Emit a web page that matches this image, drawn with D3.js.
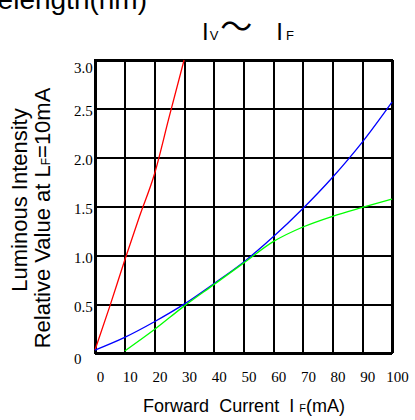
<!DOCTYPE html>
<html lang="en">
<head>
<meta charset="UTF-8">
<title>Iv ~ If</title>
<script src="https://d3js.org/d3.v7.min.js"></script>
<style>
body { margin: 0; background: #fff; }
svg { display: block; }
.grid line { stroke: #000; stroke-width: 2; shape-rendering: crispEdges; }
.grid path { display: none; }
.tick text { font-family: "Liberation Serif", "Times New Roman", serif; font-size: 15px; fill: #000; }
.lbl { font-family: "Liberation Sans", Arial, sans-serif; fill: #000; }
</style>
</head>
<body>
<script>
// data
var xTicks = [0, 10, 20, 30, 40, 50, 60, 70, 80, 90, 100];
var yTicks = [0, 0.5, 1.0, 1.5, 2.0, 2.5, 3.0];
var yTickLabels = ["0", "0.5", "1.0", "1.5", "2.0", "2.5", "3.0"];

var redX = [0, 5, 10, 15, 20, 25, 30];
var redY = [0.03, 0.48, 0.95, 1.4, 1.83, 2.42, 3.0];

var blueX = [0, 10, 20, 30, 40, 50, 60, 70, 80, 90, 100];
var blueY = [0.03, 0.16, 0.32, 0.5, 0.71, 0.93, 1.19, 1.48, 1.8, 2.16, 2.57];

var greenX = [10, 20, 30, 40, 50, 60, 70, 80, 90, 100];
var greenY = [0.02, 0.24, 0.48, 0.7, 0.92, 1.14, 1.29, 1.4, 1.49, 1.575];

var width = 415, height = 420;
var pLeft = 95, pRight = 392, pTop = 60, pBottom = 353;

var svg = d3.select("body").append("svg")
    .attr("width", width)
    .attr("height", height);

// cut-off caption of the chart above
svg.append("text").attr("class", "lbl")
    .attr("x", 147).attr("y", 9)
    .attr("text-anchor", "end")
    .style("font-size", "28px")
    .text("Wavelength(nm)");

// title
var title = svg.append("text").attr("class", "lbl")
    .attr("x", 202).attr("y", 40)
    .style("font-size", "24px");
title.append("tspan").text("I");
title.append("tspan").style("font-size", "13px").attr("dx", 1).text("V");
title.append("tspan").style("font-family", "'Noto Sans CJK SC'").style("font-size", "32px").attr("dx", 2).attr("dy", -2).text("〜");
title.append("tspan").attr("dx", 24).attr("dy", 2).text("I");
title.append("tspan").style("font-size", "13px").attr("dx", 3).text("F");

var x = d3.scaleLinear().domain([0, 100]).range([pLeft, pRight]);
var y = d3.scaleLinear().domain([0, 3]).range([pBottom, pTop]);

// vertical grid + x labels
var gx = svg.append("g")
    .attr("class", "grid")
    .attr("transform", "translate(0," + pBottom + ")")
    .call(d3.axisBottom(x).tickValues(xTicks).tickSize(-(pBottom - pTop)).tickPadding(0));
gx.selectAll(".tick text").attr("y", 29).attr("dy", 0).attr("dx", 5);

// horizontal grid + y labels
var gy = svg.append("g")
    .attr("class", "grid")
    .attr("transform", "translate(" + pLeft + ",0)")
    .call(d3.axisLeft(y).tickValues(yTicks)
        .tickFormat(function(d, i) { return yTickLabels[i]; })
        .tickSize(-(pRight - pLeft)));
gy.selectAll(".tick text")
    .attr("text-anchor", "start")
    .attr("x", -21)
    .attr("dy", function(d) { return d === 3 ? 12 : d === 0 ? 10 : 7; });

// frame
svg.append("rect")
    .attr("x", pLeft).attr("y", pTop)
    .attr("width", pRight - pLeft).attr("height", pBottom - pTop)
    .attr("fill", "none").attr("stroke", "#000").attr("stroke-width", 2);

var line = d3.line()
    .x(function(d) { return x(d[0]); })
    .y(function(d) { return y(d[1]); })
    .curve(d3.curveMonotoneX);

function series(xs, ys, color) {
    svg.append("path")
        .datum(xs.map(function(v, i) { return [v, ys[i]]; }))
        .attr("fill", "none")
        .attr("stroke", color)
        .attr("stroke-width", 1.3)
        .attr("d", line);
}
series(redX, redY, "#ff0000");
series(blueX, blueY, "#0000ff");
series(greenX, greenY, "#00ff00");

// x axis title
var xt = svg.append("text").attr("class", "lbl")
    .attr("x", 244).attr("y", 412)
    .attr("text-anchor", "middle")
    .style("font-size", "18px")
    .attr("xml:space", "preserve");
xt.append("tspan").text("Forward  Current  I ");
xt.append("tspan").style("font-size", "11px").text("F");
xt.append("tspan").text("(mA)");

// y axis title
var yt = svg.append("g").attr("transform", "rotate(-90)");
yt.append("text").attr("class", "lbl")
    .attr("x", -200).attr("y", 27)
    .attr("text-anchor", "middle")
    .style("font-size", "22px")
    .text("Luminous Intensity");
var yt2 = yt.append("text").attr("class", "lbl")
    .attr("x", -218).attr("y", 50)
    .attr("text-anchor", "middle")
    .style("font-size", "22px");
yt2.append("tspan").text("Relative Value at L");
yt2.append("tspan").style("font-size", "12px").text("F");
yt2.append("tspan").text("=10mA");
</script>
</body>
</html>
